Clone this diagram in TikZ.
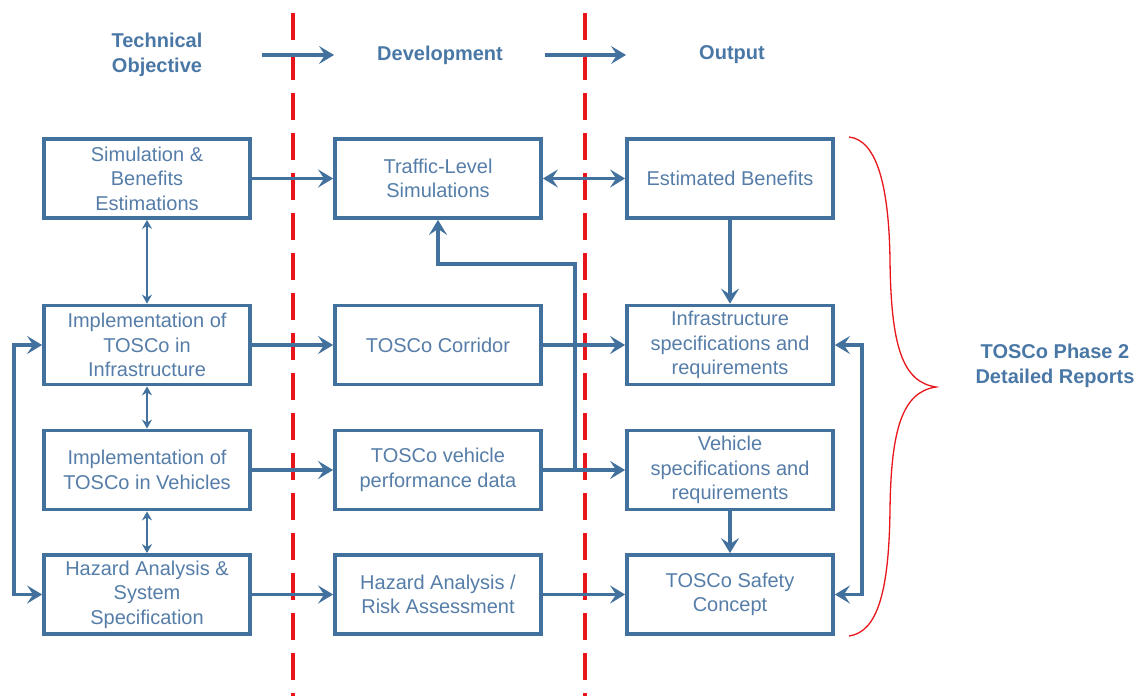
\documentclass[tikz,border=0pt]{standalone}
\usepackage{fontspec}
\setmainfont{Liberation Sans}
\usetikzlibrary{arrows.meta}
\definecolor{boxblue}{HTML}{41719C}
\definecolor{txtblue}{HTML}{557DA8}
\definecolor{hdblue}{HTML}{4A78A6}
\definecolor{divred}{HTML}{E8161B}
\tikzset{
  stepbox/.style={draw=boxblue, line width=3.8pt, minimum width=206pt, minimum height=79pt,
    inner sep=0pt, align=center, text=txtblue, font=\fontsize{20}{24.5}\selectfont},
  header/.style={align=center, text=hdblue, font=\fontsize{20}{25}\selectfont\bfseries},
  conn/.style={draw=boxblue, line width=3.3pt, -{Stealth[length=15pt,width=18pt,inset=6pt]}},
  twoway/.style={draw=boxblue, line width=3.3pt, {Stealth[length=15pt,width=18pt,inset=6pt]}-{Stealth[length=15pt,width=18pt,inset=6pt]}},
  link/.style={draw=boxblue, line width=2.4pt, {Stealth[length=9pt,width=10pt,inset=3pt]}-{Stealth[length=9pt,width=10pt,inset=3pt]}},
  divider/.style={draw=divred, line width=3.2pt, dash pattern=on 27pt off 13pt},
  brace/.style={draw=divred, line width=1.3pt}
}
\begin{document}
\begin{tikzpicture}[x=1pt, y=-1pt]
\useasboundingbox (0,0) rectangle (1138,696);

% phase dividers
\draw[divider] (293,13) -- (293,696);
\draw[divider] (585,13) -- (585,696);

% column headers
\node[header] (hobj) at (157,55) {Technical\\Objective};
\node[header] (hdev) at (440,55) {Development};
\node[header] (hout) at (732,55) {Output};
\coordinate (ha1) at (262,55);
\coordinate (ha2) at (334,55);
\coordinate (hb1) at (545,55);
\coordinate (hb2) at (626,55);
\draw[conn] (ha1) -- (ha2);
\draw[conn] (hb1) -- (hb2);

% technical objectives
\node[stepbox] (sim) at (147,178.5) {Simulation \&\\Benefits\\Estimations};
\node[stepbox] (iinf) at (147,345) {Implementation of\\TOSCo in\\Infrastructure};
\node[stepbox] (iveh) at (147,470) {Implementation of\\TOSCo in Vehicles};
\node[stepbox] (haz) at (147,594.5) {Hazard Analysis \&\\System\\Specification};

% development
\node[stepbox] (tls) at (438,178.5) {Traffic-Level\\Simulations};
\node[stepbox] (cor) at (438,345) {TOSCo Corridor};
\node[stepbox] (vpd) at (438,470) {TOSCo vehicle\\performance data};
\node[stepbox] (hra) at (438,594.5) {Hazard Analysis /\\Risk Assessment};

% outputs
\node[stepbox] (eb) at (730,178.5) {Estimated Benefits};
\node[stepbox] (isr) at (730,345) {Infrastructure\\specifications and\\requirements};
\node[stepbox] (vsr) at (730,470) {Vehicle\\specifications and\\requirements};
\node[stepbox] (sc) at (730,594.5) {TOSCo Safety\\Concept};

% links between objectives
\draw[link] (sim.south) -- (iinf.north);
\draw[link] (iinf.south) -- (iveh.north);
\draw[link] (iveh.south) -- (haz.north);
\coordinate (lloop) at (14,470);
\draw[twoway] (iinf.west) -| (lloop) |- (haz.west);

% objective to development
\draw[conn] (sim.east) -- (tls.west);
\draw[conn] (iinf.east) -- (cor.west);
\draw[conn] (iveh.east) -- (vpd.west);
\draw[conn] (haz.east) -- (hra.west);

% development to output
\draw[twoway] (tls.east) -- (eb.west);
\draw[conn] (cor.east) -- (isr.west);
\draw[conn] (vpd.east) -- (vsr.west);
\draw[conn] (hra.east) -- (sc.west);
\coordinate (jn) at (575,470);
\coordinate (bend) at (575,264);
\draw[conn] (jn) -- (bend) -| (tls.south);

% links between outputs
\draw[conn] (eb.south) -- (isr.north);
\draw[conn] (vsr.south) -- (sc.north);
\coordinate (rloop) at (862,470);
\draw[twoway] (isr.east) -| (rloop) |- (sc.east);

% reports brace
\draw[brace] (849,137) .. controls (878,140) and (889,190) .. (890,260)
  .. controls (891,345) and (902,382) .. (936,387)
  .. controls (902,392) and (891,430) .. (890,510)
  .. controls (889,590) and (878,632) .. (849,636);
\node[header] (rep) at (1055,366) {TOSCo Phase 2\\Detailed Reports};
\end{tikzpicture}
\end{document}
